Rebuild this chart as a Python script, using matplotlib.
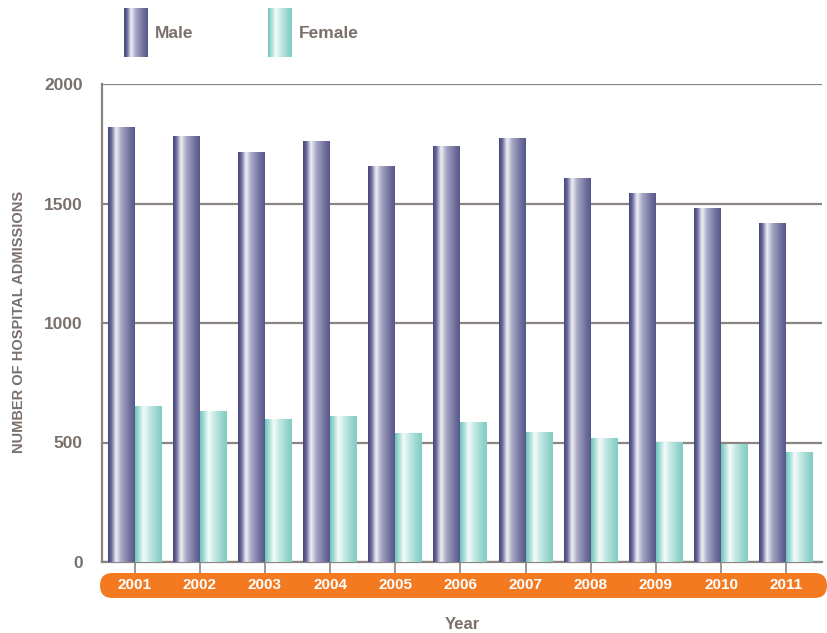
import numpy as np
import matplotlib.pyplot as plt
from matplotlib.colors import LinearSegmentedColormap
from matplotlib.patches import FancyBboxPatch

plt.rcParams['font.family'] = ['Liberation Sans', 'DejaVu Sans']

# data
years = ['2001', '2002', '2003', '2004', '2005', '2006', '2007', '2008', '2009', '2010', '2011']
male = [1820, 1780, 1715, 1760, 1655, 1740, 1770, 1605, 1540, 1480, 1415]
female = [650, 628, 595, 607, 537, 583, 541, 516, 499, 491, 457]

txt = '#7a706b'
grid_c = '#8c8480'
orange = '#f37a21'

# cylinder-ish gradients, left to right
male_cmap = LinearSegmentedColormap.from_list('m', [(0, '#464679'), (0.12, '#66669a'), (0.3, '#f0f0f6'),
                                                    (0.5, '#a6a6c4'), (0.8, '#72729f'), (1, '#56568a')])
female_cmap = LinearSegmentedColormap.from_list('f', [(0, '#6cc6bb'), (0.15, '#a8ddd6'), (0.32, '#f4fbfa'),
                                                      (0.55, '#c2e8e3'), (0.85, '#92d3cb'), (1, '#80cdc4')])
grad = np.linspace(0, 1, 256).reshape(1, -1)

fig = plt.figure(figsize=(8.28, 6.33), dpi=100)

# orange pill under the axis (drawn first, below the main axes)
pax = fig.add_axes([100/828, 1 - 598/633, (827-100)/828, 25/633])
pax.set_xlim(0, 727)
pax.set_ylim(0, 25)
pax.axis('off')
pax.add_patch(FancyBboxPatch((0, 0), 727, 25, boxstyle='round,pad=0,rounding_size=12.5',
                             facecolor=orange, edgecolor='none', mutation_aspect=1))

ax = fig.add_axes([102/828, 1 - 562/633, (822-102)/828, (562-84)/633])
ax.set_zorder(3)
ax.patch.set_alpha(0)

n = len(years)
x = np.arange(n)
w = 0.413

for i in range(n):
    ax.imshow(grad, cmap=male_cmap, extent=[x[i] - w, x[i], 0, male[i]], aspect='auto', zorder=3)
    ax.imshow(grad, cmap=female_cmap, extent=[x[i], x[i] + w, 0, female[i]], aspect='auto', zorder=3)
ax.set_xlim(-0.5, n - 0.45)
ax.set_ylim(0, 2000)

ax.set_yticks([0, 500, 1000, 1500, 2000])
ax.yaxis.grid(True, color=grid_c, linewidth=1.6, zorder=1)
ax.set_axisbelow(True)
ax.set_xticks(x)
ax.tick_params(axis='x', direction='out', length=8, width=1.2, color=grid_c, labelbottom=False)
ax.tick_params(axis='y', length=0, pad=14, labelsize=12.5, labelcolor=txt)
for lab in ax.get_yticklabels():
    lab.set_fontweight('bold')
for s in ['top', 'right']:
    ax.spines[s].set_visible(False)
for s in ['left', 'bottom']:
    ax.spines[s].set_color(grid_c)
    ax.spines[s].set_linewidth(1.6)

for i in range(n):
    ax.text(x[i], -0.049, years[i], transform=ax.get_xaxis_transform(), ha='center', va='center',
            color='white', fontsize=11, fontweight='bold', zorder=5, clip_on=False)

ax.text(0.5, -0.13, 'Year', transform=ax.transAxes, ha='center', va='center', color=txt,
        fontsize=12, fontweight='bold')
fig.text(19/828, 1 - 322/633, 'NUMBER OF HOSPITAL ADMISSIONS', rotation=90, ha='center', va='center',
         color=txt, fontsize=10.5, fontweight='bold')

# legend swatches
for x0, cm, label in [(124, male_cmap, 'Male'), (268, female_cmap, 'Female')]:
    lax = fig.add_axes([x0/828, 1 - 57/633, 24/828, 49/633])
    lax.imshow(grad, cmap=cm, aspect='auto')
    lax.axis('off')
    fig.text((x0 + 31)/828, 1 - 34/633, label, ha='left', va='center', color=txt,
             fontsize=12.5, fontweight='bold')

fig.savefig('out.png', dpi=100)
